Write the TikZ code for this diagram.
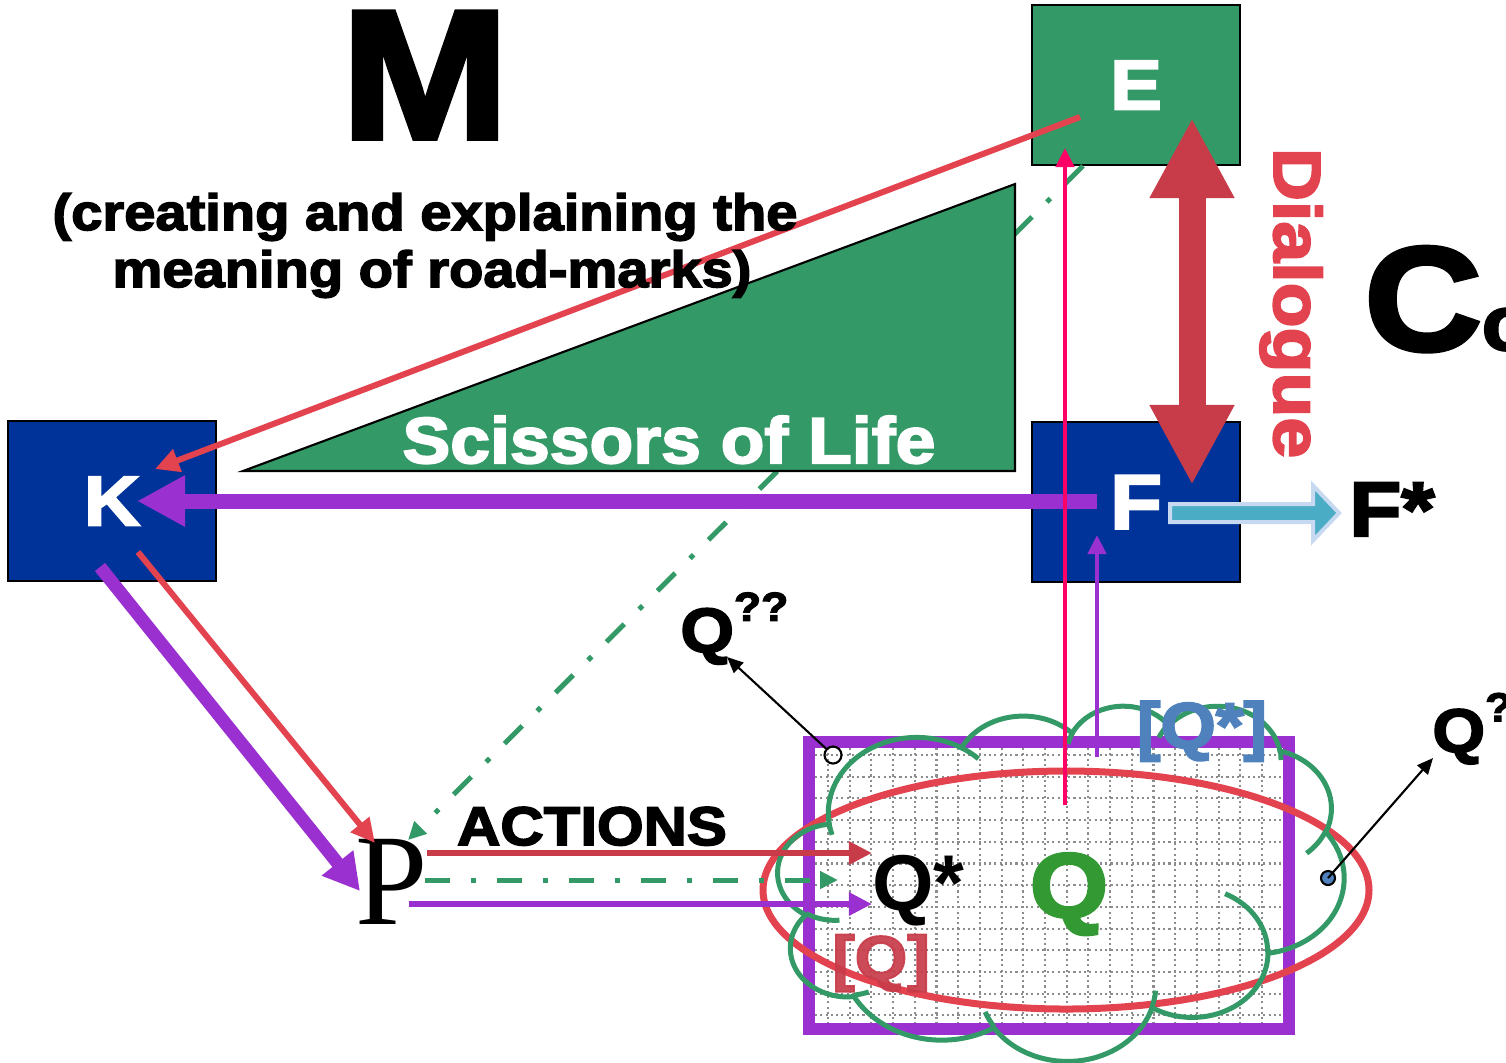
\documentclass[tikz,border=0pt]{standalone}
\usepackage{fontspec}
\setmainfont{Liberation Sans}
\newfontfamily\heavyfont{Liberation Sans}[BoldFeatures={FakeBold=3,FakeStretch=1.1}]
\newfontfamily\plainbold{Liberation Sans}
\newfontfamily\serifface{Liberation Serif}
\newcommand\heavy[1]{\fontsize{#1}{#1}\heavyfont\bfseries}
\usetikzlibrary{arrows.meta,calc}

\definecolor{boxgreen}{HTML}{339966}
\definecolor{boxblue}{HTML}{003399}
\definecolor{linered}{HTML}{E2434F}
\definecolor{darkred}{HTML}{C83C4A}
\definecolor{purp}{HTML}{9B30D0}
\definecolor{arrowpink}{HTML}{FF0066}
\definecolor{skyfill}{HTML}{4BACC6}
\definecolor{skyline}{HTML}{C6D9F1}
\definecolor{qblue}{HTML}{4F81BD}
\definecolor{qgreen}{HTML}{339933}

\tikzset{
  cloudarc/.style n args={4}{
    x radius=#1, y radius=#2,
    start angle={atan2((#1)*sin(#3),(#2)*cos(#3))},
    delta angle={mod(atan2((#1)*sin((#3)+(#4)),(#2)*cos((#3)+(#4)))-atan2((#1)*sin(#3),(#2)*cos(#3))+720,360)}
  }
}

\begin{document}
\begin{tikzpicture}[
  x=0.01cm, y=-0.01cm,
  box/.style={
    rectangle,
    draw=black,
    line width=0.5pt,
    minimum width=20.8mm,
    minimum height=16mm,
    inner sep=0pt,
    text=white
  },
  thinred/.style={draw=linered, line width=0.6mm, -{Triangle[length=2.4mm,width=2.3mm]}},
  actred/.style={draw=darkred, line width=0.65mm, -{Triangle[length=2.3mm,width=2.2mm]}},
  actpurp/.style={draw=purp, line width=0.6mm, -{Triangle[length=2.3mm,width=2.2mm]}},
  dashdot/.style={draw=boxgreen, line width=0.5mm,
    dash pattern=on 2.5mm off 2.1mm on 0.5mm off 2.1mm,
    -{Triangle[length=1.8mm,width=1.7mm]}},
  upline/.style={line width=0.45mm, -{Triangle[length=1.9mm,width=1.8mm]}},
  pointer/.style={draw=black, line width=0.6pt, -{Triangle[length=1.6mm,width=1.4mm]}},
  gridline/.style={draw=gray!90, line width=0.6pt, dash pattern=on 0.6pt off 0.9pt},
  cloudline/.style={draw=boxgreen, line width=0.5mm}
]
  \useasboundingbox (0,0) rectangle (1506,1062);

  % boxes
  \node[box, fill=boxgreen] (E) at (1136,85)  {\heavy{20}E};
  \node[box, fill=boxblue]  (F) at (1136,502) {\heavy{22}F};
  \node[box, fill=boxblue]  (K) at (112,501)  {\heavy{20}K};
  \node[inner sep=0pt, font=\fontsize{37}{37}\serifface] (P) at (392,881.5) {P};

  % green dash-dot line under the triangle
  \draw[dashdot] ($(E.south)+(-53,0)$) -- ($(P)+(16,-41.5)$);

  % scissors of life
  \filldraw[fill=boxgreen, draw=black, line width=0.6pt]
    (243,471) -- (1015,184) -- (1015,471) -- cycle;
  \node[anchor=base, text=white, font=\heavy{18.5}] (scissors) at (669,463) {Scissors of Life};

  % red line E to K, under the text
  \draw[thinred] ($(E)+(-56,32)$) -- ($(K)+(43,-32)$);

  \node[anchor=base, inner sep=0pt, font=\heavy{52}] (M) at (425,138) {M};
  \node[anchor=base, font=\heavy{14.5}] (sub1) at (425,230) {(creating and explaining the};
  \node[anchor=base, font=\heavy{14.5}] (sub2) at (432,287) {meaning of road-marks)};

  % field of questions
  \begin{scope}
    \clip (815,748) rectangle (1283,1023);
    \foreach \gx in {0,...,21}
      \draw[gridline] ({828+21.7*\gx},748) -- ({828+21.7*\gx},1023);
    \foreach \gy in {0,...,12}
      \draw[gridline] (815,{755+21.7*\gy}) -- (1283,{755+21.7*\gy});
  \end{scope}
  \draw[draw=purp, line width=1.2mm] (809,742) rectangle (1289,1029);

  \draw[draw=linered, line width=0.7mm] (1066,890) ellipse [x radius=303, y radius=119];

  % cloud
  \begin{scope}[shift={(778,705)}, xscale=13.1, yscale=8.22, cloudline]
    \draw (3.9,14.37)
      arc[cloudarc={6.753}{9.19}{-190.4875}{123.7805}]
      arc[cloudarc={5.333}{7.267}{-144.1024}{89.9452}]
      arc[cloudarc={4.365}{5.945}{-145.8079}{99.723}]
      arc[cloudarc={4.857}{6.595}{-130.9861}{117.2417}]
      arc[cloudarc={5.333}{7.273}{-78.7089}{109.0269}]
      arc[cloudarc={6.775}{9.22}{-46.2673}{130.269}]
      arc[cloudarc={5.785}{7.867}{0.625}{114.0333}]
      arc[cloudarc={6.752}{9.215}{22.4516}{115.1726}]
      arc[cloudarc={7.72}{10.543}{66.2426}{75.711}]
      arc[cloudarc={4.36}{5.918}{-274.9421}{146.7356}]
      arc[cloudarc={4.345}{5.945}{-246.8285}{152.5189}]
      -- cycle;
    \draw (4.693,26.177)  arc[cloudarc={4.345}{5.945}{86.742}{26.4295}]
          (6.928,34.899)  arc[cloudarc={4.36}{5.918}{73.6105}{11.4475}]
          (16.478,39.09)  arc[cloudarc={6.752}{9.215}{137.6242}{14.0811}]
          (28.827,34.751) arc[cloudarc={6.752}{9.215}{6.4533}{15.9984}]
          (34.129,22.954) arc[cloudarc={5.785}{7.867}{-70.2924}{70.9174}]
          (41.798,15.354) arc[cloudarc={5.333}{7.273}{30.318}{27.7515}]
          (38.324,5.426)  arc[cloudarc={4.857}{6.595}{-13.7443}{14.8589}]
          (29.078,3.952)  arc[cloudarc={4.857}{6.595}{-149.1815}{18.1954}]
          (22.141,4.72)   arc[cloudarc={4.365}{5.945}{-163.4943}{17.6864}]
          (14.0,5.192)    arc[cloudarc={6.753}{9.19}{-66.707}{12.3194}]
          (4.127,15.789)  arc[cloudarc={6.753}{9.19}{157.6544}{11.8582}];
  \end{scope}

  % labels in the field
  \node[anchor=base west, font=\fontsize{22.5}{22.5}\plainbold\bfseries] (qstar) at (860,910) {Q*};
  \node[anchor=base, text=qgreen, font=\heavy{26}] (Q) at (1069,917) {Q};
  \node[anchor=base, text=qblue, font=\heavy{18.4}] (qbox) at (1202,748) {[Q*]};
  \node[anchor=base, text=darkred, opacity=0.92, font=\heavy{17.5}] (qred) at (881,979) {[Q]};

  \coordinate (pinkfoot) at (1065,805);
  \coordinate (purpfoot) at (1097,757);

  % arrows
  \draw[draw=purp, line width=1.5mm, -{Triangle[length=4.8mm,width=4.8mm]}]
    ($(F)+(-39,-1)$) -- ($(K)+(25,0)$);
  \draw[draw=purp, line width=1.3mm, -{Triangle[length=3.6mm,width=3.8mm]}]
    ($(K)+(-12,66)$) -- ($(P)+(-32,9.5)$);
  \draw[thinred] ($(K)+(26,51)$) -- ($(P)+(-17,-38.5)$);

  \draw[actred]  ($(P)+(35,-28.5)$) -- ($(qstar.base west)+(12,-57)$);
  \draw[dashdot] ($(P)+(33,-1.5)$)  -- ($(qstar.base west)+(-22,-30)$);
  \draw[actpurp] ($(P)+(17,22.5)$)  -- ($(qstar.base west)+(12,-6)$);

  \draw[upline, draw=arrowpink] (pinkfoot) -- ($(E)+(-71,63)$);
  \draw[upline, draw=purp] (purpfoot) -- ($(F)+(-39,33)$);

  \draw[draw=darkred, line width=2.7mm,
    {Triangle[length=8mm,width=7.9mm]}-{Triangle[length=8mm,width=7.9mm]}]
    ($(E)+(56,33)$) -- ($(F)+(56,-17)$);

  \filldraw[fill=skyfill, draw=skyline, line width=0.4mm]
    ($(F)+(34,2)$) -- ++(143,0) -- ++(0,-18.5) -- ++(26,27.5)
    -- ++(-26,27.5) -- ++(0,-18.5) -- ++(-143,0) -- cycle;

  \node[anchor=base west, font=\heavy{22}] (Fstar) at (1337,536) {F*};
  \node[anchor=base, text=linered, rotate=-90, font=\heavy{19}] (dialogue) at (1274,303) {Dialogue};
  \node[anchor=base west, font=\heavy{42}] (Co) at (1352,350) {C{\heavy{22}o}};
  \node[anchor=base, font=\heavy{15.5}] (actions) at (592,845) {ACTIONS};

  % questions
  \node[anchor=base west, font=\heavy{17.8}] (qq) at (668,652)
    {Q\raisebox{0.5em}{\heavy{11.5}??}};
  \node[anchor=base west, font=\heavy{17.5}] (qr) at (1420,752)
    {Q\raisebox{0.5em}{\heavy{11.5}??}};
  \node[circle, draw=black, line width=0.6pt, minimum size=1.7mm, inner sep=0pt] (c1) at (833,755) {};
  \node[circle, draw=black, fill=qblue, line width=0.6pt, minimum size=1.4mm, inner sep=0pt] (c2) at (1328,878) {};
  \draw[pointer] (c1) -- ($(qq.base west)+(59,5)$);
  \draw[pointer] (c2.center) -- ($(qr.base west)+(13,6)$);
\end{tikzpicture}
\end{document}
